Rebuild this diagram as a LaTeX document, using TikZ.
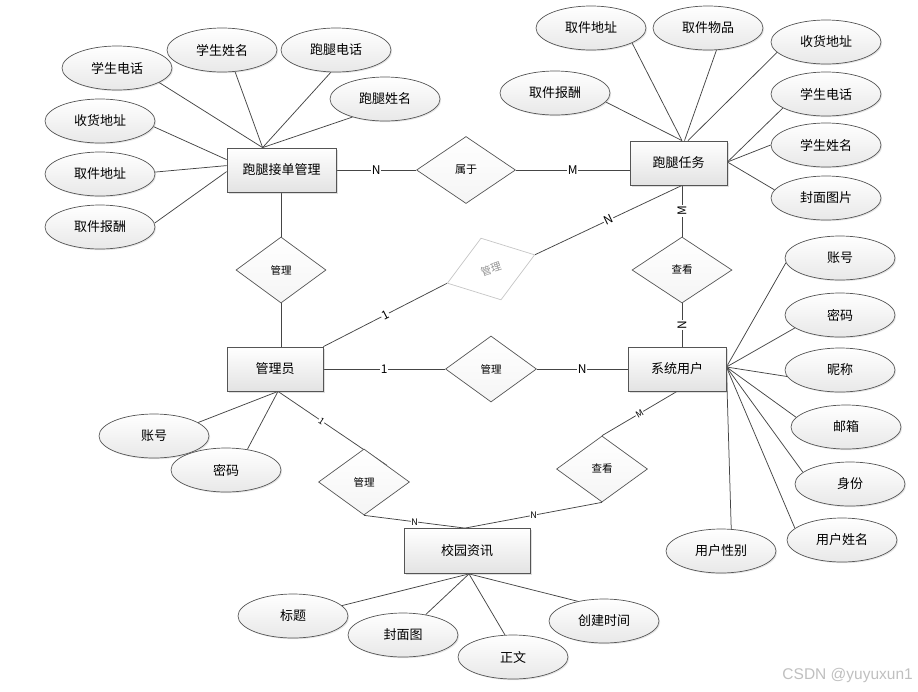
\documentclass[tikz,border=0pt]{standalone}
\usepackage{fontspec}
\setmainfont{Noto Sans CJK SC}
\newfontfamily\wmfont{Liberation Sans}
\usetikzlibrary{shapes.geometric,shadows,backgrounds,calc}
\definecolor{edgec}{HTML}{555555}
\definecolor{linec}{HTML}{454545}
\begin{document}
\begin{tikzpicture}[x=1pt,y=-1pt,
  ent/.style={rectangle, draw=edgec, line width=0.8pt, top color=white, bottom color=gray!22,
    minimum height=44pt, inner sep=0pt, font=\fontsize{13}{15}\selectfont,
    drop shadow={shadow xshift=1.5pt, shadow yshift=-1.5pt, opacity=0.25}},
  attr/.style={ellipse, draw=edgec, line width=0.7pt, top color=white, bottom color=gray!18,
    minimum width=110pt, minimum height=44pt, inner sep=0pt, font=\fontsize{13}{15}\selectfont,
    drop shadow={shadow xshift=1.2pt, shadow yshift=-1.2pt, opacity=0.2}},
  rel/.style={diamond, draw=edgec, line width=0.7pt, top color=white, bottom color=gray!8,
    inner sep=0pt, font=\fontsize{10.5}{12}\selectfont},
  card/.style={fill=white, inner sep=0.8pt, font=\fontsize{12}{13}\selectfont},
  cardsm/.style={fill=white, inner sep=0.6pt, font=\fontsize{9}{10}\selectfont},
  ln/.style={draw=linec, line width=0.75pt}
]
\useasboundingbox (0,0) rectangle (918,691);

% entities
\node[ent, minimum width=109pt] (pdm) at (281.5,170) {跑腿接单管理};
\node[ent, minimum width=97pt] (task) at (678.5,163) {跑腿任务};
\node[ent, minimum width=96pt] (admin) at (275,369) {管理员};
\node[ent, minimum width=98pt] (user) at (677,369) {系统用户};
\node[ent, minimum width=126pt, minimum height=45pt] (news) at (467,551) {校园资讯};

% relations
\node[rel, minimum width=99pt, minimum height=67pt, font=\fontsize{11}{12}\selectfont] (shuyu) at (466,170) {属于};
\node[rel, minimum width=90pt, minimum height=66pt] (gl1) at (281,270) {管理};
\node[rel, minimum width=100pt, minimum height=66pt] (ck1) at (682,270) {查看};
\node[rel, minimum width=91pt, minimum height=66pt] (gl2) at (491,369) {管理};
\node[rel, minimum width=91pt, minimum height=66pt] (gl3) at (364,482) {管理};
\node[rel, minimum width=91pt, minimum height=66pt] (ck2) at (602,469) {查看};
\node[rel, draw=gray!45, top color=white, bottom color=white, rotate=18,
  minimum width=92pt, minimum height=65pt] (gl4) at (491,269) {};
\node[text=gray!85, rotate=18, font=\fontsize{10.5}{12}\selectfont, inner sep=0pt] (gl4t) at (gl4.center) {管理};

% attributes of 跑腿接单管理
\node[attr] (a1) at (117,68) {学生电话};
\node[attr] (a2) at (222,50) {学生姓名};
\node[attr] (a3) at (336,50) {跑腿电话};
\node[attr] (a4) at (385,99) {跑腿姓名};
\node[attr] (a5) at (100,121) {收货地址};
\node[attr] (a6) at (100,174) {取件地址};
\node[attr] (a7) at (100,227) {取件报酬};

% attributes of 跑腿任务
\node[attr] (b1) at (591,28) {取件地址};
\node[attr] (b2) at (708,28) {取件物品};
\node[attr] (b3) at (826,42) {收货地址};
\node[attr] (b4) at (555,93) {取件报酬};
\node[attr] (b5) at (826,94) {学生电话};
\node[attr] (b6) at (826,145) {学生姓名};
\node[attr] (b7) at (826,198) {封面图片};

% attributes of 系统用户
\node[attr] (c1) at (840,258) {账号};
\node[attr] (c2) at (840,315) {密码};
\node[attr] (c3) at (840,370) {昵称};
\node[attr] (c4) at (846,427) {邮箱};
\node[attr] (c5) at (850,484) {身份};
\node[attr] (c6) at (842,540) {用户姓名};
\node[attr] (c7) at (721,551) {用户性别};

% attributes of 管理员
\node[attr] (d1) at (154,436) {账号};
\node[attr] (d2) at (226,470) {密码};

% attributes of 校园资讯
\node[attr] (e1) at (293,616) {标题};
\node[attr] (e2) at (403,635) {封面图};
\node[attr] (e3) at (513,657) {正文};
\node[attr] (e4) at (604,621) {创建时间};

% connection points
\coordinate (pdmT) at ($(pdm.north west)+(36,0)$);
\coordinate (pdmL1) at ($(pdm.north west)+(0,12)$);
\coordinate (pdmL2) at ($(pdm.north west)+(0,18)$);
\coordinate (pdmL3) at ($(pdm.north west)+(0,24)$);
\coordinate (taskT) at ($(task.north)+(3.5,0)$);
\coordinate (taskT2) at ($(task.north)+(6,0)$);
\coordinate (taskT3) at ($(task.north)+(9.5,0)$);
\coordinate (taskR) at ($(task.east)+(0,-1)$);
\coordinate (taskB) at (ck1.north |- task.south);
\coordinate (userR) at ($(user.east)+(0,-2)$);
\coordinate (adminB) at ($(admin.south)+(3,0)$);
\coordinate (newsB) at ($(news.south)+(2,0)$);
\coordinate (newsT) at ($(news.north)+(-2,0)$);
\coordinate (gl3ne) at ($(gl3.north)!0.5!(gl3.east)$);

\node[font=\wmfont\fontsize{15.5}{17}\selectfont, text=gray!50, anchor=east, inner sep=0pt] (wm) at (913,675) {CSDN @yuyuxun1};

\begin{scope}[on background layer]
% relation connectors
\draw[ln] (pdm.east) -- node[card]{N} (shuyu.west);
\draw[ln] (shuyu.east) -- node[card]{M} (shuyu.east -| task.west);
\draw[ln] (pdm.south -| gl1.north) -- (gl1.north);
\draw[ln] (gl1.south) -- (gl1.south |- admin.north);
\draw[ln] (admin.east) -- node[card]{1} (gl2.west);
\draw[ln] (gl2.east) -- node[card]{N} (user.west);
\draw[ln] (taskB) -- node[card, rotate=90]{M} (ck1.north);
\draw[ln] (ck1.south) -- node[card, rotate=90]{N} (ck1.south |- user.north);
\draw[ln] (admin.north east) -- node[card, sloped]{1} (gl4.west);
\draw[ln] (gl4.east) -- node[card, sloped]{N} (taskB);
\draw[ln] (adminB) -- node[cardsm, sloped, pos=0.4]{1} (gl3ne);
\draw[ln] (gl3.south) -- node[cardsm, pos=0.5]{N} (newsT);
\draw[ln] (ck2.south) -- node[cardsm, pos=0.5]{N} (newsT);
\draw[ln] (user.south) -- node[cardsm, sloped]{M} (ck2.north);

% attribute connectors
\draw[ln] (pdmT) -- (a1.-19);
\draw[ln] (pdmT) -- (a2.-59);
\draw[ln] (pdmT) -- (a3.-103);
\draw[ln] (pdmT) -- (a4.209);
\draw[ln] (pdmL1) -- (a5.-6);
\draw[ln] (pdmL2) -- (a6.2);
\draw[ln] (pdmL3) -- (a7.4);

\draw[ln] (taskT) -- (b1.-20);
\draw[ln] (taskT2) -- (b2.-69);
\draw[ln] (taskT3) -- (b3.192);
\draw[ln] (taskT) -- (b4.-10);
\draw[ln] (taskR) -- (b5.198);
\draw[ln] (taskR) -- (b6.180);
\draw[ln] (taskR) -- (b7.171);

\draw[ln] (userR) -- (c1.185);
\draw[ln] (userR) -- (c2.196);
\draw[ln] (userR) -- (c3.187);
\draw[ln] (userR) -- (c4.169);
\draw[ln] (userR) -- (c5.166);
\draw[ln] (userR) -- (c6.166);
\draw[ln] (userR) -- (c7.65);

\draw[ln] (adminB) -- (d1.17);
\draw[ln] (adminB) -- (d2.44);

\draw[ln] (newsB) -- (e1.12);
\draw[ln] (newsB) -- (e2.42);
\draw[ln] (newsB) -- (e3.110);
\draw[ln] (newsB) -- (e4.143);
\end{scope}
\end{tikzpicture}
\end{document}
